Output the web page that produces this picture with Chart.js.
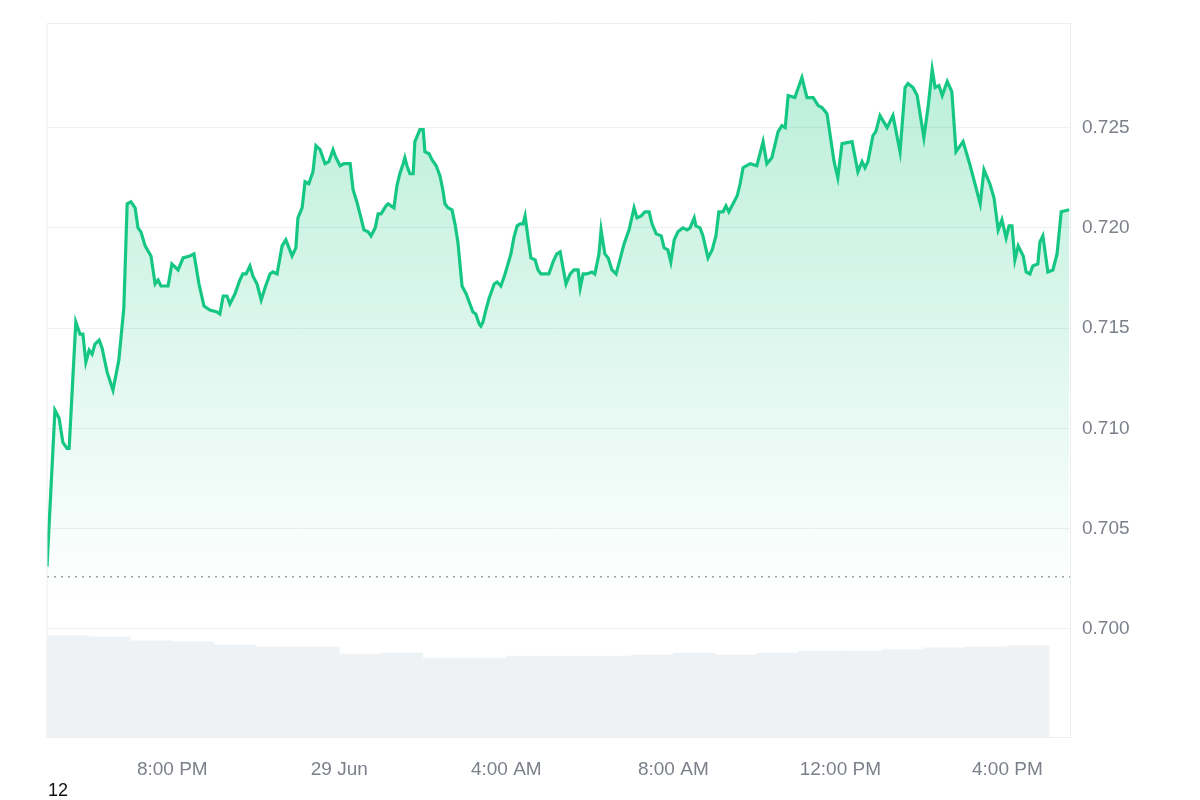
<!DOCTYPE html>
<html>
<head>
<meta charset="utf-8">
<script src="https://cdn.jsdelivr.net/npm/chart.js@4/dist/chart.umd.min.js"></script>
<style>
  body { margin: 0; background: #fff; }
  #wrap { position: relative; width: 1200px; height: 800px; }
  #stray { position: absolute; left: 48px; top: 780px; font: 18px "Liberation Sans", Arial, sans-serif; color: #111; }
</style>
</head>
<body>
<div id="wrap">
  <canvas id="chart" width="1200" height="800"></canvas>
  <div id="stray">12</div>
</div>
<script>
// hours since ~5:00 PM, 28 Jun
const hours = [0,.19,.29,.38,.48,.53,.69,.79,.86,.93,1.01,1.08,1.15,1.25,1.32,1.44,1.58,1.72,1.84,1.92,2.01,2.11,2.18,2.25,2.35,2.49,2.59,2.66,2.73,2.90,2.99,3.14,3.26,3.42,3.52,3.64,3.76,3.90,4.07,4.14,4.22,4.31,4.38,4.50,4.62,4.69,4.77,4.86,4.93,5.03,5.13,5.22,5.34,5.41,5.51,5.63,5.72,5.87,5.96,6.01,6.11,6.18,6.27,6.37,6.44,6.54,6.66,6.75,6.85,6.92,7.02,7.11,7.26,7.33,7.42,7.52,7.59,7.69,7.76,7.86,7.93,8.00,8.12,8.17,8.24,8.31,8.38,8.45,8.53,8.57,8.62,8.69,8.77,8.81,8.89,8.93,9.01,9.05,9.15,9.22,9.32,9.41,9.48,9.53,9.60,9.70,9.77,9.84,9.89,9.94,10.04,10.13,10.20,10.27,10.35,10.39,10.44,10.51,10.59,10.71,10.78,10.87,10.97,11.04,11.11,11.18,11.26,11.33,11.40,11.45,11.52,11.59,11.69,11.76,11.83,11.93,12.02,12.12,12.21,12.29,12.36,12.43,12.53,12.62,12.72,12.77,12.84,12.93,13.05,13.12,13.22,13.27,13.36,13.44,13.53,13.63,13.72,13.82,13.94,14.06,14.13,14.23,14.32,14.42,14.49,14.59,14.71,14.78,14.87,14.94,15.02,15.11,15.23,15.33,15.40,15.50,15.54,15.64,15.71,15.83,15.93,16.02,16.09,16.19,16.26,16.33,16.43,16.53,16.60,16.67,16.84,17.00,17.15,17.24,17.36,17.51,17.60,17.68,17.75,17.91,18.08,18.20,18.35,18.47,18.56,18.68,18.85,18.94,19.04,19.28,19.42,19.52,19.59,19.66,19.78,19.85,19.95,20.12,20.26,20.43,20.55,20.62,20.74,20.84,21.00,21.10,21.20,21.27,21.36,21.44,21.56,21.67,21.77,21.94,22.11,22.35,22.44,22.58,22.68,22.78,22.87,22.97,23.04,23.11,23.18,23.26,23.38,23.45,23.54,23.61,23.73,23.78,23.85,23.97,24.09,24.19,24.29,24.48];
const prices = [.7031,.7109,.7105,.7093,.7090,.7090,.7153,.7147,.7147,.7133,.7139,.7137,.7142,.7144,.7140,.7128,.7119,.7134,.7160,.7212,.7213,.7210,.7200,.7198,.7191,.7186,.7172,.7174,.7171,.7171,.7182,.7179,.7185,.7186,.7187,.7172,.7161,.7159,.7158,.7157,.7166,.7166,.7162,.7167,.7174,.7177,.7177,.7181,.7176,.7172,.7164,.7170,.7177,.7178,.7177,.7191,.7194,.7186,.7190,.7205,.7210,.7223,.7222,.7228,.7241,.7239,.7232,.7233,.7239,.7235,.7231,.7232,.7232,.7219,.7213,.7205,.7199,.7198,.7196,.7200,.7207,.7207,.7211,.7212,.7211,.7210,.7221,.7227,.7232,.7235,.7231,.7227,.7227,.7243,.7247,.7249,.7249,.7238,.7237,.7234,.7231,.7226,.7219,.7212,.7210,.7209,.7202,.7193,.7182,.7171,.7167,.7162,.7158,.7157,.7152,.7151,.7153,.7159,.7165,.7172,.7173,.7171,.7177,.7182,.7187,.7195,.7201,.7202,.7202,.7206,.7195,.7185,.7184,.7179,.7177,.7177,.7177,.7183,.7187,.7188,.7180,.7172,.7177,.7179,.7179,.7170,.7177,.7177,.7178,.7177,.7187,.7199,.7187,.7185,.7179,.7177,.7184,.7192,.7199,.7210,.7205,.7206,.7208,.7208,.7202,.7197,.7196,.7190,.7189,.7183,.7194,.7198,.7200,.7199,.7200,.7205,.7201,.7200,.7196,.7185,.7189,.7196,.7208,.7208,.7211,.7208,.7212,.7216,.7222,.7230,.7232,.7231,.7243,.7232,.7235,.7248,.7251,.7250,.7266,.7265,.7275,.7265,.7265,.7261,.7260,.7257,.7233,.7225,.7242,.7243,.7228,.7233,.7230,.7233,.7246,.7248,.7256,.7250,.7256,.7238,.7270,.7272,.7270,.7266,.7245,.7260,.7279,.7270,.7271,.7266,.7273,.7268,.7238,.7243,.7231,.7212,.7229,.7222,.7215,.7199,.7204,.7195,.7201,.7201,.7184,.7191,.7186,.7178,.7177,.7181,.7182,.7193,.7196,.7178,.7179,.7187,.7208,.7209,.7225];
const volHours = [.5,1.5,2.5,3.5,4.5,5.5,6.5,7.5,8.5,9.5,10.5,11.5,12.5,13.5,14.5,15.5,16.5,17.5,18.5,19.5,20.5,21.5,22.5,23.5];
const volumes = [100,99,95,94,91,89,89,82,83,78,78,80,80,80,81,83,81,83,85,85,86,88,89,90];
const openPrice = 0.7026;
const xTicks = [3, 7, 11, 15, 19, 23];
const xTickLabels = ['8:00 PM', '29 Jun', '4:00 AM', '8:00 AM', '12:00 PM', '4:00 PM'];
const yTicks = [0.700, 0.705, 0.710, 0.715, 0.720, 0.725];

const ctx = document.getElementById('chart').getContext('2d');
const grad = ctx.createLinearGradient(0, 18, 0, 600);
grad.addColorStop(0, 'rgba(22,199,132,0.32)');
grad.addColorStop(1, 'rgba(22,199,132,0.0)');

new Chart(ctx, {
  data: {
    datasets: [
      {
        type: 'line',
        data: hours.map((h, i) => ({ x: h, y: prices[i] })),
        borderColor: '#16c784',
        borderWidth: 3.2,
        backgroundColor: grad,
        fill: 'start',
        pointRadius: 0,
        tension: 0,
        yAxisID: 'y',
        order: 1
      },
      {
        type: 'line',
        data: [{ x: 0, y: openPrice }, { x: 24.5, y: openPrice }],
        borderColor: '#9aa0a8',
        borderWidth: 1.5,
        borderDash: [2, 5],
        pointRadius: 0,
        fill: false,
        yAxisID: 'y',
        order: 2
      },
      {
        type: 'bar',
        data: volHours.map((h, i) => ({ x: h, y: volumes[i] })),
        backgroundColor: '#eff2f5',
        barPercentage: 1,
        categoryPercentage: 1,
        yAxisID: 'vol',
        order: 3
      }
    ]
  },
  options: {
    responsive: false,
    animation: false,
    layout: { padding: { left: 47, top: 14 } },
    plugins: { legend: { display: false }, tooltip: { enabled: false } },
    scales: {
      x: {
        type: 'linear',
        min: 0,
        max: 24.5,
        offset: false,
        afterBuildTicks: ax => { ax.ticks = xTicks.map(v => ({ value: v })); },
        afterFit: ax => { ax.height = 63; },
        ticks: {
          callback: (v, i) => xTickLabels[i],
          color: '#7b808a',
          font: { family: 'Liberation Sans', size: 19 },
          maxRotation: 0,
          padding: 21
        },
        grid: { display: false, drawTicks: false },
        border: { display: true, color: '#eceef1' }
      },
      y: {
        position: 'right',
        min: 0.6946,
        max: 0.7302,
        afterBuildTicks: ax => { ax.ticks = yTicks.map(v => ({ value: v })); },
        afterFit: ax => { ax.width = 130; },
        ticks: {
          callback: v => v.toFixed(3),
          color: '#7b808a',
          font: { family: 'Liberation Sans', size: 19 },
          padding: 12
        },
        grid: { color: '#eef0f2', drawTicks: false },
        border: { display: true, color: '#eceef1' }
      },
      vol: {
        display: false,
        min: 0,
        max: 705
      }
    }
  },
  plugins: [{
    id: 'frame',
    afterDraw: chart => {
      const a = chart.chartArea, c = chart.ctx;
      c.save();
      c.strokeStyle = '#eceef1';
      c.lineWidth = 1;
      c.beginPath();
      c.moveTo(a.left, a.top); c.lineTo(a.right, a.top);
      c.moveTo(a.left, a.top); c.lineTo(a.left, a.bottom);
      c.stroke();
      c.restore();
    }
  }]
});
</script>
</body>
</html>
